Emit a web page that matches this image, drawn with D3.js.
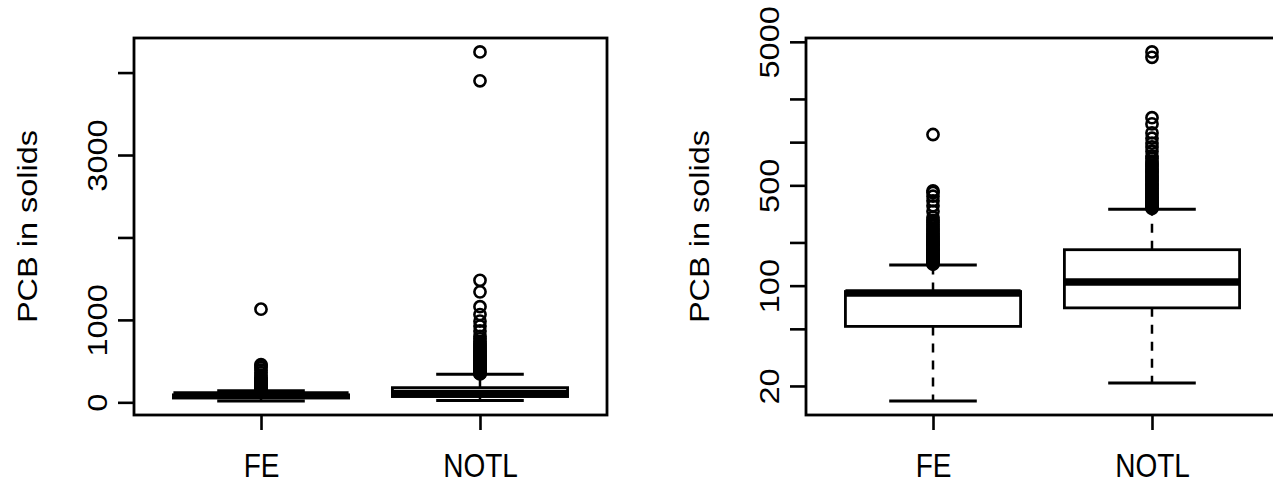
<!DOCTYPE html>
<html>
<head>
<meta charset="utf-8">
<script src="https://cdn.jsdelivr.net/npm/d3@7"></script>
<style>
  html, body { margin: 0; padding: 0; background: #fff; }
  svg { display: block; }
  text { font-family: "Liberation Sans", Arial, Helvetica, sans-serif; fill: #000; }
</style>
</head>
<body>
<svg id="chart" width="1273" height="483"></svg>
<script>
// ---------------- data ----------------
const categories = ["FE", "NOTL"];
// five-number summaries (lower whisker, Q1, median, Q3, upper whisker)
const whiskerLow  = [15.7, 21];
const q1          = [52, 70];
const medians     = [89, 106];
const q3          = [91, 178];
const whiskerHigh = [139, 341];
// outliers
const outliersFE = [141,143,145,147,150,152,155,158,160,163,166,170,173,177,180,184,188,192,196,200,
                    205,210,215,220,226,232,238,245,252,260,268,276,285,300,330,360,390,420,445,458,1130];
const outliersNOTL = [345,350,356,362,368,375,382,390,398,406,415,425,435,445,456,468,480,492,505,518,
                      532,546,560,575,590,606,622,640,658,676,695,715,737,770,800,865,925,985,1065,1160,
                      1340,1480,3900,4250];
const outliers = [outliersFE, outliersNOTL];
const yLabel = "PCB in solids";
// axis ticks
const linTicks = [0, 1000, 2000, 3000, 4000];
const linTickLabels = ["0", "1000", "3000"];
const logTicks = [20, 50, 100, 200, 500, 1000, 2000, 5000];
const logTickLabels = ["20", "100", "500", "5000"];

// ---------------- layout ----------------
const svg = d3.select("#chart");
const plotTop = 38, plotBottom = 415;
const stretch = 1.16; // vertical stretch of glyphs
const fontSize = 28;
const panels = [
  { left: 134, right: 607, type: "lin" },
  { left: 806, right: 1279, type: "log" }
];

const allVals = [].concat(whiskerLow, whiskerHigh, outliersFE, outliersNOTL);
const vmin = d3.min(allVals), vmax = d3.max(allVals);

function drawPanel(p) {
  const g = svg.append("g");
  let y;
  if (p.type === "lin") {
    const ext = (vmax - vmin) * 0.04;
    y = d3.scaleLinear().domain([vmin - ext, vmax + ext]).range([plotBottom, plotTop]);
  } else {
    const lmin = Math.log10(vmin), lmax = Math.log10(vmax);
    const ext = (lmax - lmin) * 0.04;
    y = d3.scaleLog().domain([Math.pow(10, lmin - ext), Math.pow(10, lmax + ext)]).range([plotBottom, plotTop]);
  }
  const x = d3.scaleLinear().domain([0.42, 2.58]).range([p.left, p.right]);
  const halfBox = x(1.4) - x(1);
  const halfCap = x(1.2) - x(1);

  categories.forEach((c, i) => {
    const cx = x(i + 1);
    g.append("line").attr("x1", cx).attr("x2", cx).attr("y1", y(q3[i])).attr("y2", y(whiskerHigh[i]))
      .attr("stroke", "#000").attr("stroke-width", 2.5).attr("stroke-dasharray", "9,8");
    g.append("line").attr("x1", cx).attr("x2", cx).attr("y1", y(q1[i])).attr("y2", y(whiskerLow[i]))
      .attr("stroke", "#000").attr("stroke-width", 2.5).attr("stroke-dasharray", "9,8");
    [whiskerLow[i], whiskerHigh[i]].forEach(v => {
      g.append("line").attr("x1", cx - halfCap).attr("x2", cx + halfCap).attr("y1", y(v)).attr("y2", y(v))
        .attr("stroke", "#000").attr("stroke-width", 3);
    });
    g.append("rect").attr("x", cx - halfBox).attr("width", 2 * halfBox)
      .attr("y", y(q3[i])).attr("height", y(q1[i]) - y(q3[i]))
      .attr("fill", "none").attr("stroke", "#000").attr("stroke-width", 2.8);
    g.append("line").attr("x1", cx - halfBox).attr("x2", cx + halfBox).attr("y1", y(medians[i])).attr("y2", y(medians[i]))
      .attr("stroke", "#000").attr("stroke-width", 7.5);
    g.selectAll(null).data(outliers[i]).enter().append("circle")
      .attr("cx", cx).attr("cy", d => y(d)).attr("r", 5.6)
      .attr("fill", "none").attr("stroke", "#000").attr("stroke-width", 2.6);
  });

  g.append("rect").attr("x", p.left).attr("y", plotTop).attr("width", p.right - p.left).attr("height", plotBottom - plotTop)
    .attr("fill", "none").attr("stroke", "#000").attr("stroke-width", 2.8);

  const ticks = p.type === "lin" ? linTicks : logTicks;
  const labels = p.type === "lin" ? linTickLabels : logTickLabels;
  const yAxis = d3.axisLeft(y).tickValues(ticks).tickSize(16).tickPadding(0)
    .tickFormat(d => labels.includes(String(d)) ? String(d) : "");
  const ya = g.append("g").attr("transform", `translate(${p.left},0)`).call(yAxis);
  ya.select(".domain").remove();
  ya.selectAll(".tick line").attr("stroke", "#000").attr("stroke-width", 2.6);
  ya.selectAll(".tick text")
    .attr("transform", `translate(-27,0) scale(1,${stretch}) rotate(-90)`)
    .attr("x", 0).attr("y", 0).attr("dy", 0)
    .attr("text-anchor", "middle")
    .attr("fill", "#000")
    .style("font-size", fontSize + "px")
    .style("font-family", '"Liberation Sans", Arial, sans-serif');

  const xAxis = d3.axisBottom(x).tickValues([1, 2]).tickSize(15).tickPadding(0)
    .tickFormat(d => categories[d - 1]);
  const xa = g.append("g").attr("transform", `translate(0,${plotBottom})`).call(xAxis);
  xa.select(".domain").remove();
  xa.selectAll(".tick line").attr("stroke", "#000").attr("stroke-width", 2.6);
  xa.selectAll(".tick text")
    .attr("transform", `translate(0,62) scale(1,${stretch})`)
    .attr("y", 0).attr("dy", 0)
    .attr("fill", "#000")
    .style("font-size", fontSize + "px")
    .style("font-family", '"Liberation Sans", Arial, sans-serif');

  g.append("text")
    .attr("transform", `translate(${p.left - 97},${(plotTop + plotBottom) / 2}) scale(1,${stretch}) rotate(-90)`)
    .attr("text-anchor", "middle")
    .style("font-size", fontSize + "px")
    .text(yLabel);
}

panels.forEach(drawPanel);
</script>
</body>
</html>
